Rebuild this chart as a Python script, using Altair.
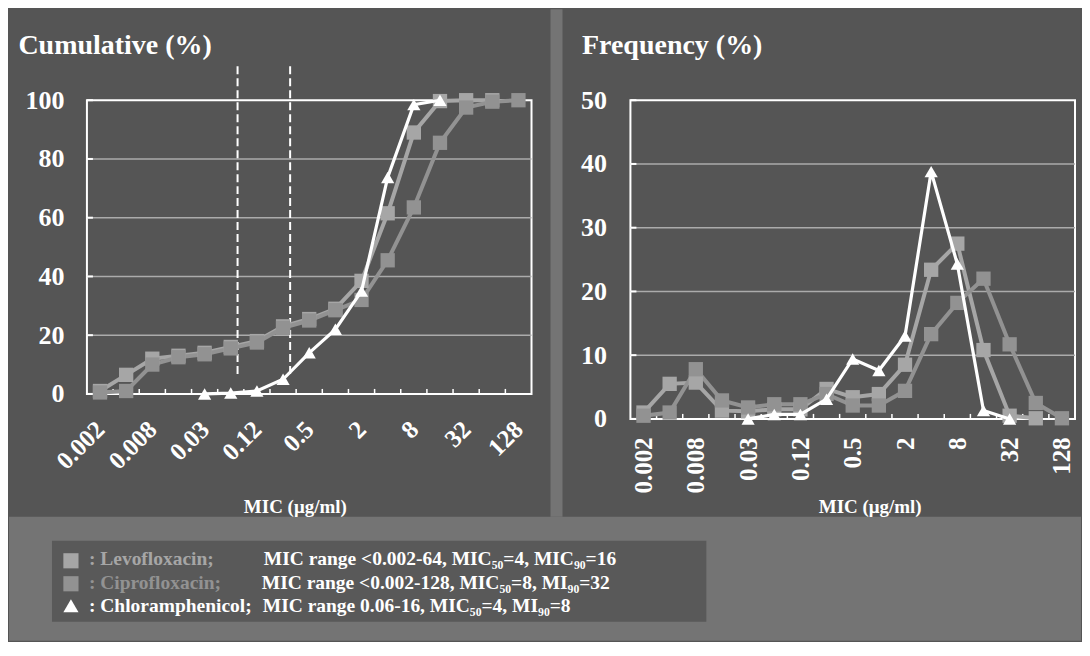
import altair as alt
import pandas as pd

# ---------------- data ----------------
mic_labels = ["0.002", "0.004", "0.008", "0.015", "0.03", "0.06", "0.12", "0.25",
              "0.5", "1", "2", "4", "8", "16", "32", "64", "128"]
shown_label_idx = [0, 2, 4, 6, 8, 10, 12, 14, 16]

series_names = ["Levofloxacin", "Ciprofloxacin", "Chloramphenicol"]

cum_levo = [1, 6.5, 12, 13, 14, 16, 18, 23, 25.5, 29, 38.5, 61.5, 89, 99.7, 100, 100, None]
cum_cipro = [0.5, 1, 10, 12.5, 13.5, 15.5, 17.5, 22.5, 25, 28.5, 32, 45.5, 63.5, 85.5, 97.5, 99.5, 100]
cum_chlor = [None, None, None, None, 0, 0.3, 1, 5, 14, 22, 35, 73.7, 98.5, 100, None, None, None]

freq_levo = [1.0, 5.5, 5.7, 1.3, 1.2, 1.5, 1.5, 4.7, 3.4, 3.9, 8.5, 23.4, 27.5, 10.8, 0.5, 0.1, None]
freq_cipro = [0.5, 1.0, 7.8, 2.9, 1.8, 2.3, 2.3, 3.9, 2.1, 2.1, 4.4, 13.3, 18.2, 22.0, 11.7, 2.5, 0.1]
freq_chlor = [None, None, None, None, 0, 0.7, 0.7, 3.1, 9.4, 7.6, 13.0, 38.8, 24.3, 1.3, 0, None, None]

cum_ticks = [0, 20, 40, 60, 80, 100]
freq_ticks = [0, 10, 20, 30, 40, 50]
breakpoints_idx = [5.26, 7.27]   # dashed breakpoint lines, in MIC-category units

legend_names = [": Levofloxacin;", ": Ciprofloxacin;", ": Chloramphenicol;"]
legend_desc = ["MIC range <0.002-64, MIC\u2085\u2080=4, MIC\u2089\u2080=16",
               "MIC range <0.002-128, MIC\u2085\u2080=8, MI\u2089\u2080=32",
               "MIC range 0.06-16, MIC\u2085\u2080=4, MI\u2089\u2080=8"]

title_left = "Cumulative (%)"
title_right = "Frequency (%)"
x_title = "MIC (\u03bcg/ml)"

# ---------------- style ----------------
FONT = "Liberation Serif"
BG = "#555555"
LIGHT = "#747474"
BOX = "#595959"
GRID = "#ababab"
C_LEVO = "#a6a6a6"
C_CIPRO = "#929292"
C_CHLOR = "#ffffff"
W = 445
H_LEFT = 294
H_RIGHT = 319


def long_df(d):
    rows = []
    for name, vals in d.items():
        for i, v in enumerate(vals):
            if v is not None:
                rows.append({"idx": i, "mic": mic_labels[i], "value": v, "series": name})
    return pd.DataFrame(rows)


label_expr = "[" + ",".join("'%s'" % l for l in mic_labels) + "][datum.value]"


def one(**kw):
    return pd.DataFrame({k: [v] for k, v in kw.items()} if kw else {"a": [0]})


def rect(x, x2, y, y2, color):
    return alt.Chart(one()).mark_rect(color=color, opacity=1).encode(
        x=alt.value(x), x2=alt.value(x2), y=alt.value(y), y2=alt.value(y2))


def text(t, x, y, size, color="white", align="left"):
    return alt.Chart(one(t=t)).mark_text(
        font=FONT, fontWeight="bold", fontSize=size, color=color,
        align=align, baseline="alphabetic").encode(
        x=alt.value(x), y=alt.value(y), text="t:N")


def panel(data_dict, ymax, yticks, H, x_angle, x_pad, y_pad, title, title_x, xt_x,
          dashed=None, deco=None):
    df = long_df(data_dict)
    x_axis = alt.Axis(values=shown_label_idx, labelExpr=label_expr, labelAngle=x_angle,
                      labelAlign="right", labelBaseline="middle", labelPadding=x_pad,
                      labelFont=FONT, labelFontWeight="bold", labelFontSize=25,
                      labelColor="white", labelFlush=False, labelOverlap=False,
                      labelBound=False, ticks=False, domain=False, grid=False, title=None)
    y_axis = alt.Axis(values=yticks, labelPadding=y_pad, labelFont=FONT,
                      labelFontWeight="bold", labelFontSize=26, labelColor="white",
                      labelFlush=False, labelOverlap=False, labelBaseline="middle",
                      ticks=False, domain=False, grid=False, title=None)
    xs = alt.Scale(domain=[-0.5, len(mic_labels) - 0.5], nice=False, zero=False)
    ys = alt.Scale(domain=[0, ymax], nice=False, zero=True)

    def X(f):
        return alt.X(f + ":Q", scale=xs, axis=x_axis)

    def Y(f):
        return alt.Y(f + ":Q", scale=ys, axis=y_axis)

    layers = []
    if deco:
        layers += deco
    grid_df = pd.DataFrame({"g": yticks[1:-1]})
    layers.append(alt.Chart(grid_df).mark_rule(color=GRID, strokeWidth=1.5).encode(
        y=Y("g"), x=alt.value(0), x2=alt.value(W)))
    layers.append(alt.Chart(pd.DataFrame({"g": yticks})).mark_rule(
        color="white", strokeWidth=2).encode(y=Y("g"), x=alt.value(0), x2=alt.value(6)))
    bnd = pd.DataFrame({"b": [i + 0.5 for i in range(len(mic_labels) - 1)]})
    layers.append(alt.Chart(bnd).mark_rule(color="white", strokeWidth=1.5).encode(
        x=X("b"), y=alt.value(H), y2=alt.value(H - 5)))
    if dashed is not None:
        layers.append(alt.Chart(pd.DataFrame({"bp": dashed})).mark_rule(
            color="white", strokeWidth=2, strokeDash=[8, 4]).encode(
            x=X("bp"), y=alt.value(-34), y2=alt.value(276)))

    gray = df[df["series"] != "Chloramphenicol"]
    white = df[df["series"] == "Chloramphenicol"]
    cscale = alt.Scale(domain=["Ciprofloxacin", "Levofloxacin"], range=[C_CIPRO, C_LEVO])
    layers.append(alt.Chart(gray).mark_line(strokeWidth=4).encode(
        x=X("idx"), y=Y("value"),
        color=alt.Color("series:N", scale=cscale, legend=None)))
    layers.append(alt.Chart(gray).mark_point(shape="square", filled=True, size=205,
                                             opacity=1).encode(
        x=X("idx"), y=Y("value"),
        color=alt.Color("series:N", scale=cscale, legend=None)))
    layers.append(alt.Chart(white).mark_line(strokeWidth=3.2, color=C_CHLOR).encode(
        x=X("idx"), y=Y("value")))
    layers.append(alt.Chart(white).mark_point(shape="triangle-up", filled=True, size=175,
                                              opacity=1, color=C_CHLOR).encode(
        x=X("idx"), y=Y("value")))
    layers.append(text(title, title_x, -46, 28))
    layers.append(text(x_title, xt_x, 413, 19, align="center"))
    return alt.layer(*layers).properties(width=W, height=H)


# decorations (frame, strip, bottom area, legend) -- positions relative to left plot
deco = [
    rect(-78, -77, -91, -90, BG),           # anchor top-left corner
    rect(464, 476, -91, 417, LIGHT),        # gap between panels
    rect(-78, 995, 417, 541, LIGHT),        # lower area
    rect(-35, 620, 441, 522, BOX),          # legend box
]
leg_colors = [C_LEVO, C_CIPRO, C_CHLOR]
leg_shapes = ["square", "square", "triangle-up"]
leg_sym_y = [461, 484, 506]
leg_base_y = [465, 489, 512]
leg_desc_x = [177, 175, 176]
for i in range(3):
    deco.append(alt.Chart(one()).mark_point(shape=leg_shapes[i], filled=True, opacity=1,
                                            size=230, color=leg_colors[i]).encode(
        x=alt.value(-16), y=alt.value(leg_sym_y[i])))
    deco.append(text(legend_names[i], 2, leg_base_y[i], 19.5, color=leg_colors[i]))
    deco.append(text(legend_desc[i], leg_desc_x[i], leg_base_y[i], 19.5))

left = panel({"Levofloxacin": cum_levo, "Ciprofloxacin": cum_cipro,
              "Chloramphenicol": cum_chlor},
             100, cum_ticks, H_LEFT, -45, 31, 23, title_left, -68.6, 208.6,
             dashed=breakpoints_idx, deco=deco)
right = panel({"Levofloxacin": freq_levo, "Ciprofloxacin": freq_cipro,
               "Chloramphenicol": freq_chlor},
              50, freq_ticks, H_RIGHT, -90, 18, 24, title_right, -48.5, 240)

chart = alt.hconcat(left, right, spacing=99, bounds="flush").properties(
    padding=0
).configure(background=BG).configure_view(stroke="white", strokeWidth=2)

chart.save("out.html", embed_options={"renderer": "svg", "actions": False})
